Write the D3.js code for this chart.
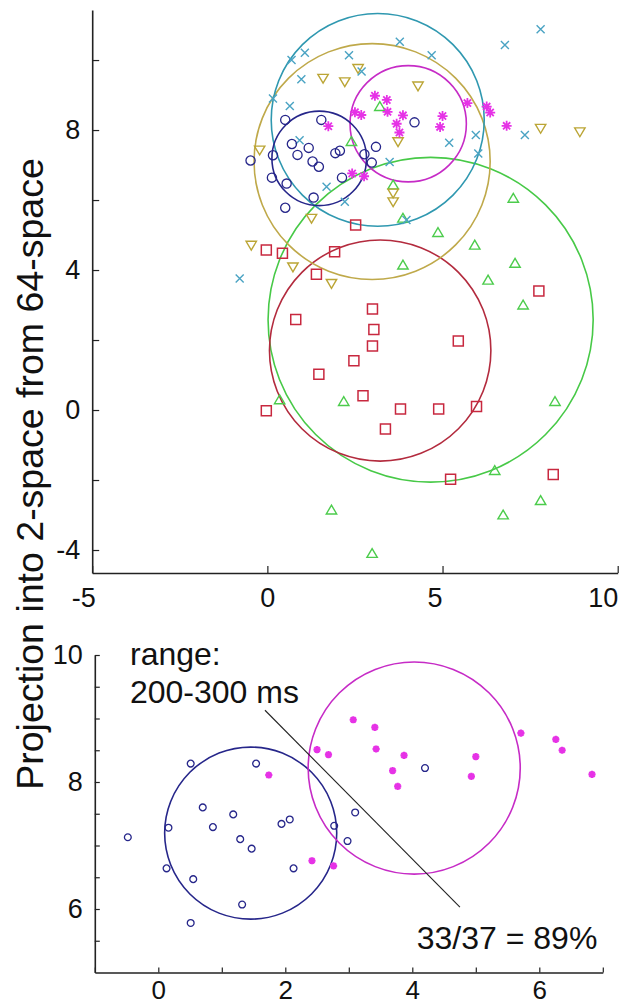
<!DOCTYPE html>
<html><head><meta charset="utf-8">
<script src="https://cdn.jsdelivr.net/npm/d3@7"></script>
<style>
body{margin:0;background:#fff}
svg{display:block}
text{font-family:"Liberation Sans",Arial,Helvetica,sans-serif;fill:#111}
</style>
</head><body>
<svg id="chart" width="636" height="1007"></svg>
<script>
// ---------------- DATA ----------------
// Top panel: projection of six classes (x, y)
const cyanPoints = [[3.78,10.52],[1.07,10.21],[0.69,10.0],[2.33,10.14],[0.97,9.45],[2.69,9.67],[0.16,8.9],[0.64,8.69],[0.92,7.71],[3.49,7.09],[1.69,6.38],[2.21,5.95],[4.69,10.14],[7.8,10.88],[6.78,10.43],[7.35,7.86],[5.19,7.64],[5.95,7.86],[6.02,7.33],[-0.79,3.76],[3.97,5.43]];
const olivePoints = [[2.59,9.76],[1.59,9.48],[2.21,9.38],[4.30,9.26],[-0.22,7.43],[3.73,7.67],[3.59,6.2],[3.59,5.95],[1.26,5.48],[7.8,8.05],[8.92,7.95],[-0.46,4.71],[0.73,4.09],[1.83,3.62]];
const greenPoints = [[7.02,6.05],[4.87,5.07],[5.92,4.71],[7.07,4.19],[6.3,3.71],[7.3,3.0],[8.21,0.24],[6.49,-1.73],[7.8,-2.59],[6.73,-3.0],[3.87,4.14],[2.18,0.24],[0.35,0.29],[1.83,-2.86],[2.99,-4.1],[3.87,5.48],[3.59,6.43],[2.4,7.67],[3.21,8.67]];
const redPoints = [[-0.03,4.57],[0.43,4.48],[1.92,4.52],[1.4,3.88],[0.81,2.59],[3.0,2.89],[3.04,2.3],[3.0,1.83],[2.47,1.41],[1.47,1.02],[2.73,0.41],[3.8,0.03],[3.37,-0.54],[-0.03,-0.02],[2.52,5.29],[7.75,3.4],[5.45,1.97],[4.89,0.03],[5.97,0.1],[5.23,-1.98],[8.16,-1.84]];
// Shared by both panels (bottom panel: range 200-300 ms)
const bluePoints = [[-0.48,7.13],[0.16,7.28],[0.13,6.64],[0.51,8.29],[0.55,6.47],[0.51,5.78],[0.70,7.60],[0.86,7.29],[1.18,7.49],[1.29,7.10],[1.47,6.95],[1.32,6.07],[1.54,8.29],[1.94,7.34],[2.07,7.41],[2.13,6.64],[2.77,7.31],[3.10,7.52],[2.98,7.07],[4.20,8.22]];
const magentaPoints = [[1.74,8.11],[2.50,8.51],[2.68,8.43],[3.07,8.98],[2.42,6.76],[2.76,6.68],[3.41,8.86],[3.43,8.52],[3.87,8.42],[3.69,8.18],[3.77,7.93],[5.00,8.40],[4.93,8.09],[5.71,8.77],[6.26,8.67],[6.36,8.50],[6.83,8.12]];

// Class circles (center x, center y, radius)
const topCircleNames = ["green","red","olive","cyan","magenta","blue"];
const topCircleCx = [4.66, 3.22, 2.99, 3.15, 4.02, 1.48];
const topCircleCy = [2.58, 1.70, 7.10, 8.29, 8.18, 7.19];
const topCircleR  = [4.64, 3.16, 3.37, 3.04, 1.66, 1.35];
const botCircleNames = ["blue","magenta"];
const botCircleCx = [1.455, 4.03];
const botCircleCy = [7.195, 8.22];
const botCircleR  = [1.355, 1.67];

// Axes ticks
const topXTicks = [-5, 0, 5, 10];
const topYTicks = [-4, -2, 0, 2, 4, 6, 8, 10];
const topYLabels = [-4, 0, 4, 8];
const botXTicks = [-1, 0, 1, 2, 3, 4, 5, 6, 7];
const botXLabels = [0, 2, 4, 6];
const botYTicks = [5.5, 6, 6.5, 7, 7.5, 8, 8.5, 9, 9.5, 10];
const botYLabels = [6, 8, 10];

// Annotations (bottom panel, data units)
const separatorLine = [[1.68, 9.13], [4.75, 6.03]];
const annotationText = ["range:", "200-300 ms", "33/37 = 89%"];
const annotationPos = [[-0.446, 9.84], [-0.446, 9.244], [4.07, 5.376]];
const yTitle = "Projection into 2-space from 64-space";

// ---------------- STYLE ----------------
const markerColor = {cyan:"#4aa3c3", olive:"#bba535", green:"#4ccc4c", red:"#c8283f", blue:"#26268a", magenta:"#e632e6"};
const circleColor = {cyan:"#2f98b0", olive:"#bfa94a", green:"#47c947", red:"#b32b3e", blue:"#26268a", magenta:"#c62bc6"};

const svg = d3.select("#chart");

function markerPath(type, s) {
  switch (type) {
    case "square": return `M${-s},${-s}H${s}V${s}H${-s}Z`;
    case "tridown": return `M${-s},${-s*0.75}H${s}L0,${s*0.95}Z`;
    case "triup": return `M${-s},${s*0.75}H${s}L0,${-s*0.95}Z`;
    case "x": return `M${-s},${-s}L${s},${s}M${-s},${s}L${s},${-s}`;
    case "star": { const d = s*0.72; return `M${-s},0H${s}M0,${-s}V${s}M${-d},${-d}L${d},${d}M${-d},${d}L${d},${-d}`; }
    case "circle": return `M${s},0A${s},${s} 0 1,1 ${-s},0A${s},${s} 0 1,1 ${s},0Z`;
  }
}

function drawPoints(g, pts, x, y, type, size, color, sw) {
  g.append("g").selectAll("path").data(pts).join("path")
    .attr("d", markerPath(type, size))
    .attr("transform", d => `translate(${x(d[0])},${y(d[1])})`)
    .attr("fill", "none").attr("stroke", color).attr("stroke-width", sw);
}

function drawCircles(g, names, cx, cy, r, x, y, sw) {
  const rows = names.map((n, i) => ({n, cx: cx[i], cy: cy[i], r: r[i]}));
  g.append("g").selectAll("ellipse").data(rows).join("ellipse")
    .attr("cx", d => x(d.cx)).attr("cy", d => y(d.cy))
    .attr("rx", d => Math.abs(x(d.cx + d.r) - x(d.cx)))
    .attr("ry", d => Math.abs(y(d.cy + d.r) - y(d.cy)))
    .attr("fill", "none").attr("stroke", d => circleColor[d.n]).attr("stroke-width", sw);
}

function styleAxis(g, fs) {
  g.select(".domain").attr("stroke", "#222").attr("stroke-width", 1.6);
  g.selectAll(".tick line").attr("stroke", "#222").attr("stroke-width", 1.2);
  g.selectAll(".tick text").attr("font-size", fs).attr("fill", "#111")
    .attr("font-family", '"Liberation Sans",Arial,sans-serif');
}

// ---------------- TOP PANEL ----------------
const xT = d3.scaleLinear().domain([-5, 10]).range([92.2, 617.7]);
const yT = d3.scaleLinear().domain([-4.657, 11.43]).range([573, 10]);
const topG = svg.append("g");

drawCircles(topG, topCircleNames, topCircleCx, topCircleCy, topCircleR, xT, yT, 1.6);
drawPoints(topG, greenPoints, xT, yT, "triup", 5.2, markerColor.green, 1.4);
drawPoints(topG, redPoints, xT, yT, "square", 5, markerColor.red, 1.5);
drawPoints(topG, olivePoints, xT, yT, "tridown", 5.2, markerColor.olive, 1.4);
drawPoints(topG, cyanPoints, xT, yT, "x", 4, markerColor.cyan, 1.4);
drawPoints(topG, bluePoints, xT, yT, "circle", 4.6, markerColor.blue, 1.3);
drawPoints(topG, magentaPoints, xT, yT, "star", 5, markerColor.magenta, 1.8);

const labelShift = {"-5": -9, "0": 0, "5": -8, "10": -15};
const topXAxis = topG.append("g").attr("transform", `translate(0,${yT(-4.657)})`)
  .call(d3.axisBottom(xT).tickValues(topXTicks).tickSize(-7).tickPadding(15).tickSizeOuter(0)
    .tickFormat(d => String(d)));
styleAxis(topXAxis, 27);
topXAxis.selectAll(".tick text").attr("dx", d => labelShift[String(d)] || 0);

const topYAxis = topG.append("g").attr("transform", `translate(${xT(-5)},0)`)
  .call(d3.axisLeft(yT).tickValues(topYTicks).tickSize(-7).tickPadding(12).tickSizeOuter(0)
    .tickFormat(d => topYLabels.includes(d) ? String(d) : ""));
styleAxis(topYAxis, 27);

// ---------------- BOTTOM PANEL ----------------
const xB = d3.scaleLinear().domain([-1, 7]).range([94.8, 602.8]);
const yB = d3.scaleLinear().domain([5, 10]).range([972.5, 655]);
const botG = svg.append("g");

drawCircles(botG, botCircleNames, botCircleCx, botCircleCy, botCircleR, xB, yB, 1.6);
drawPoints(botG, bluePoints, xB, yB, "circle", 3.4, markerColor.blue, 1.3);
drawPoints(botG, magentaPoints, xB, yB, "star", 3.6, markerColor.magenta, 2.2);

botG.append("line")
  .attr("x1", xB(separatorLine[0][0])).attr("y1", yB(separatorLine[0][1]))
  .attr("x2", xB(separatorLine[1][0])).attr("y2", yB(separatorLine[1][1]))
  .attr("stroke", "#222").attr("stroke-width", 1.1);

botG.append("g").selectAll("text").data(annotationText).join("text")
  .attr("x", (d, i) => xB(annotationPos[i][0]))
  .attr("y", (d, i) => yB(annotationPos[i][1]))
  .attr("font-size", 32).text(d => d);

const botXAxis = botG.append("g").attr("transform", `translate(0,${yB(5)})`)
  .call(d3.axisBottom(xB).tickValues(botXTicks).tickSize(-5).tickPadding(8).tickSizeOuter(0)
    .tickFormat(d => botXLabels.includes(d) ? String(d) : ""));
styleAxis(botXAxis, 26);

const botYAxis = botG.append("g").attr("transform", `translate(${xB(-1)},0)`)
  .call(d3.axisLeft(yB).tickValues(botYTicks).tickSize(-5).tickPadding(12).tickSizeOuter(0)
    .tickFormat(d => botYLabels.includes(d) ? String(d) : ""));
styleAxis(botYAxis, 27);

// ---------------- Y TITLE ----------------
svg.append("text")
  .attr("transform", "translate(43,474) rotate(-90)")
  .attr("text-anchor", "middle").attr("font-size", 37.5)
  .text(yTitle);
</script>
</body></html>
